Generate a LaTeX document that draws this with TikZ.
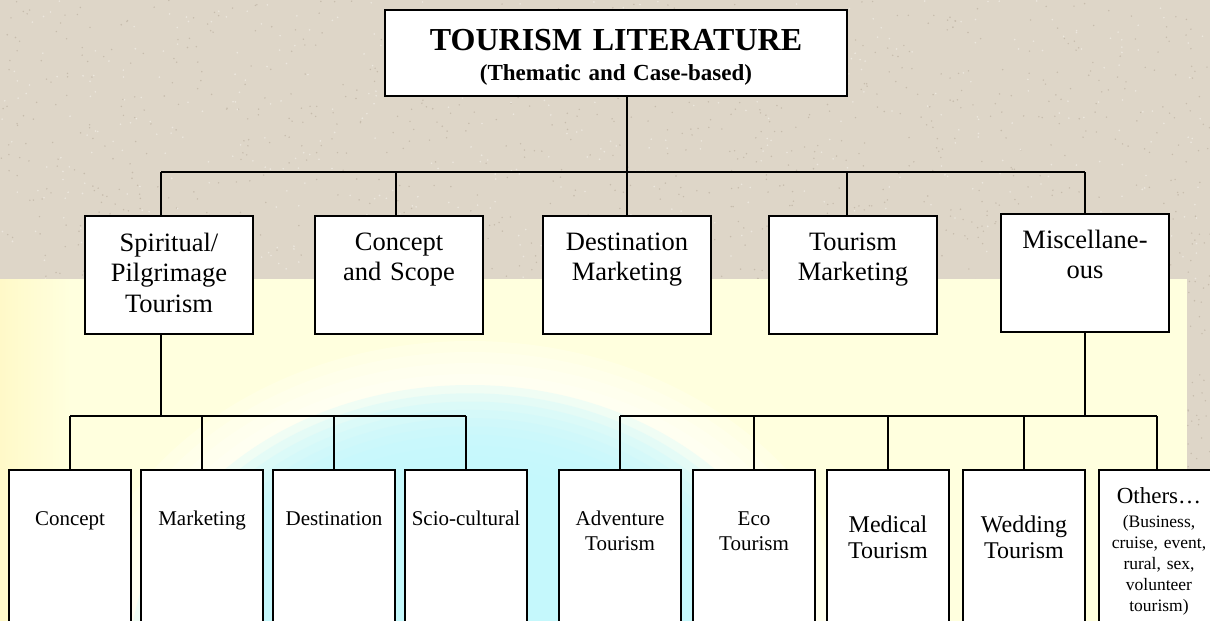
\documentclass[tikz,border=0pt]{standalone}
\usepackage{fontspec}
\setmainfont{Liberation Serif}
\usetikzlibrary{calc}

\definecolor{paper}{RGB}{222,214,200}
\definecolor{paperdark}{RGB}{198,188,172}
\definecolor{paperlight}{RGB}{236,231,222}
\definecolor{lemon}{RGB}{255,255,222}
\definecolor{lemondeep}{RGB}{255,249,200}
\definecolor{sky}{RGB}{196,248,255}

\tikzset{
  conn/.style={draw=black, line width=1.6pt},
  box/.style={draw=black, line width=1.6pt, fill=white, inner sep=0pt, outer sep=0pt, anchor=north west},
  topbox/.style={box, minimum width=462pt, minimum height=86pt},
  midbox/.style={box, minimum width=168pt, minimum height=118pt},
  lowbox/.style={box, minimum width=122pt, minimum height=170pt},
  txt/.style={anchor=base, inner sep=0pt, text width=160pt, align=center},
  midtxt/.style={txt, font=\fontsize{26.5}{30.5}\selectfont},
  lowtxt/.style={txt, text width=118pt, font=\fontsize{21}{25}\selectfont},
  bigtxt/.style={txt, text width=118pt, font=\fontsize{24}{26}\selectfont},
  smalltxt/.style={txt, text width=118pt, font=\fontsize{17.5}{21}\selectfont},
}

\begin{document}
\begin{tikzpicture}[x=1pt, y=-1pt]
\useasboundingbox (0,0) rectangle (1210,621);
\begin{scope}
\clip (0,0) rectangle (1210,621);

% paper background with speckles
\fill[paper] (0,0) rectangle (1210,621);
\pgfmathsetseed{42}
\foreach \k in {1,...,900}{
  \pgfmathsetmacro\px{rnd*1210}
  \pgfmathsetmacro\py{rnd*285}
  \fill[paperdark] (\px,\py) circle (0.8);
}
\foreach \k in {1,...,500}{
  \pgfmathsetmacro\px{rnd*1210}
  \pgfmathsetmacro\py{rnd*285}
  \fill[paperlight] (\px,\py) circle (0.9);
}
\foreach \k in {1,...,60}{
  \pgfmathsetmacro\px{1187+rnd*23}
  \pgfmathsetmacro\py{279+rnd*342}
  \fill[paperdark] (\px,\py) circle (0.8);
}

% pale yellow panel
\fill[lemon] (0,279) rectangle (1187,621);
\shade[left color=lemondeep, right color=lemon] (0,279) rectangle (70,621);

% soft glow: a white halo around a cyan core, built from stacked translucent ellipses
\foreach \s in {1.16,1.12,1.08,1.04}{
  \fill[white, opacity=0.22] (470,660) ellipse ({340*\s} and {275*\s});
}
\foreach \s in {1.0,0.97,0.94,0.91,0.88,0.85,0.82,0.78,0.74,0.7}{
  \fill[sky, opacity=0.25] (470,660) ellipse ({340*\s} and {275*\s});
}

% title box
\node[topbox] (top) at (385,10) {};
\node[txt, text width=450pt, font=\bfseries\fontsize{32}{36}\selectfont] (title) at (616,50) {TOURISM LITERATURE};
\node[txt, text width=450pt, font=\bfseries\fontsize{23}{26}\selectfont] (subtitle) at (616,80) {(Thematic and Case-based)};

% second level
\node[midbox] (spir) at (85,216) {};
\node[midbox] (conc) at (315,216) {};
\node[midbox] (dest) at (543,216) {};
\node[midbox] (tmkt) at (769,216) {};
\node[midbox] (misc) at (1001,214) {};

\node[midtxt] (spirt) at (169,251) {Spiritual/\\Pilgrimage\\Tourism};
\node[midtxt] (conct) at (399,250) {Concept\\and Scope};
\node[midtxt] (destt) at (627,250) {Destination\\Marketing};
\node[midtxt] (tmktt) at (853,250) {Tourism\\Marketing};
\node[midtxt] (misct) at (1085,248) {Miscellane-\\ous};

% third level
\node[lowbox] (c1) at (9,470) {};
\node[lowbox] (c2) at (141,470) {};
\node[lowbox] (c3) at (273,470) {};
\node[lowbox] (c4) at (405,470) {};
\node[lowbox] (r1) at (559,470) {};
\node[lowbox] (r2) at (693,470) {};
\node[lowbox] (r3) at (827,470) {};
\node[lowbox] (r4) at (963,470) {};
\node[lowbox, minimum width=116pt] (r5) at (1099,470) {};

\node[lowtxt] (c1t) at (70,525) {Concept};
\node[lowtxt] (c2t) at (202,525) {Marketing};
\node[lowtxt] (c3t) at (334,525) {Destination};
\node[lowtxt] (c4t) at (466,525) {Scio-cultural};
\node[lowtxt] (r1t) at (620,525) {Adventure\\Tourism};
\node[lowtxt] (r2t) at (754,525) {Eco\\Tourism};
\node[bigtxt] (r3t) at (888,532) {Medical\\Tourism};
\node[bigtxt] (r4t) at (1024,532) {Wedding\\Tourism};
\node[txt, text width=118pt, font=\fontsize{23}{26}\selectfont] (r5t) at (1159,503) {Others…};
\node[smalltxt] (r5s) at (1159,527) {(Business,\\cruise, event,\\rural, sex,\\volunteer\\tourism)};

% connectors: title to second level
\coordinate (hl) at (161,172);
\coordinate (hc) at (396,172);
\coordinate (hm) at (847,172);
\coordinate (hr) at (1085,172);
\draw[conn] (top.south -| dest.north) -- (dest.north);
\draw[conn] (hl) -- (hr);
\draw[conn] (hl) -- (hl |- spir.north);
\draw[conn] (hc) -- (hc |- conc.north);
\draw[conn] (hm) -- (hm |- tmkt.north);
\draw[conn] (hr) -- (misc.north);

% connectors: spiritual branch
\coordinate (sd) at (161,416);
\draw[conn] (sd |- spir.south) -- (sd);
\draw[conn] (c1.north |- sd) -- (c4.north |- sd);
\foreach \n in {c1,c2,c3,c4}{ \draw[conn] (\n.north |- sd) -- (\n.north); }

% connectors: miscellaneous branch
\coordinate (md) at (1085,416);
\draw[conn] (misc.south) -- (md);
\draw[conn] (r1.north |- md) -- (r5.north |- md);
\foreach \n in {r1,r2,r3,r4,r5}{ \draw[conn] (\n.north |- md) -- (\n.north); }
\end{scope}
\end{tikzpicture}
\end{document}
